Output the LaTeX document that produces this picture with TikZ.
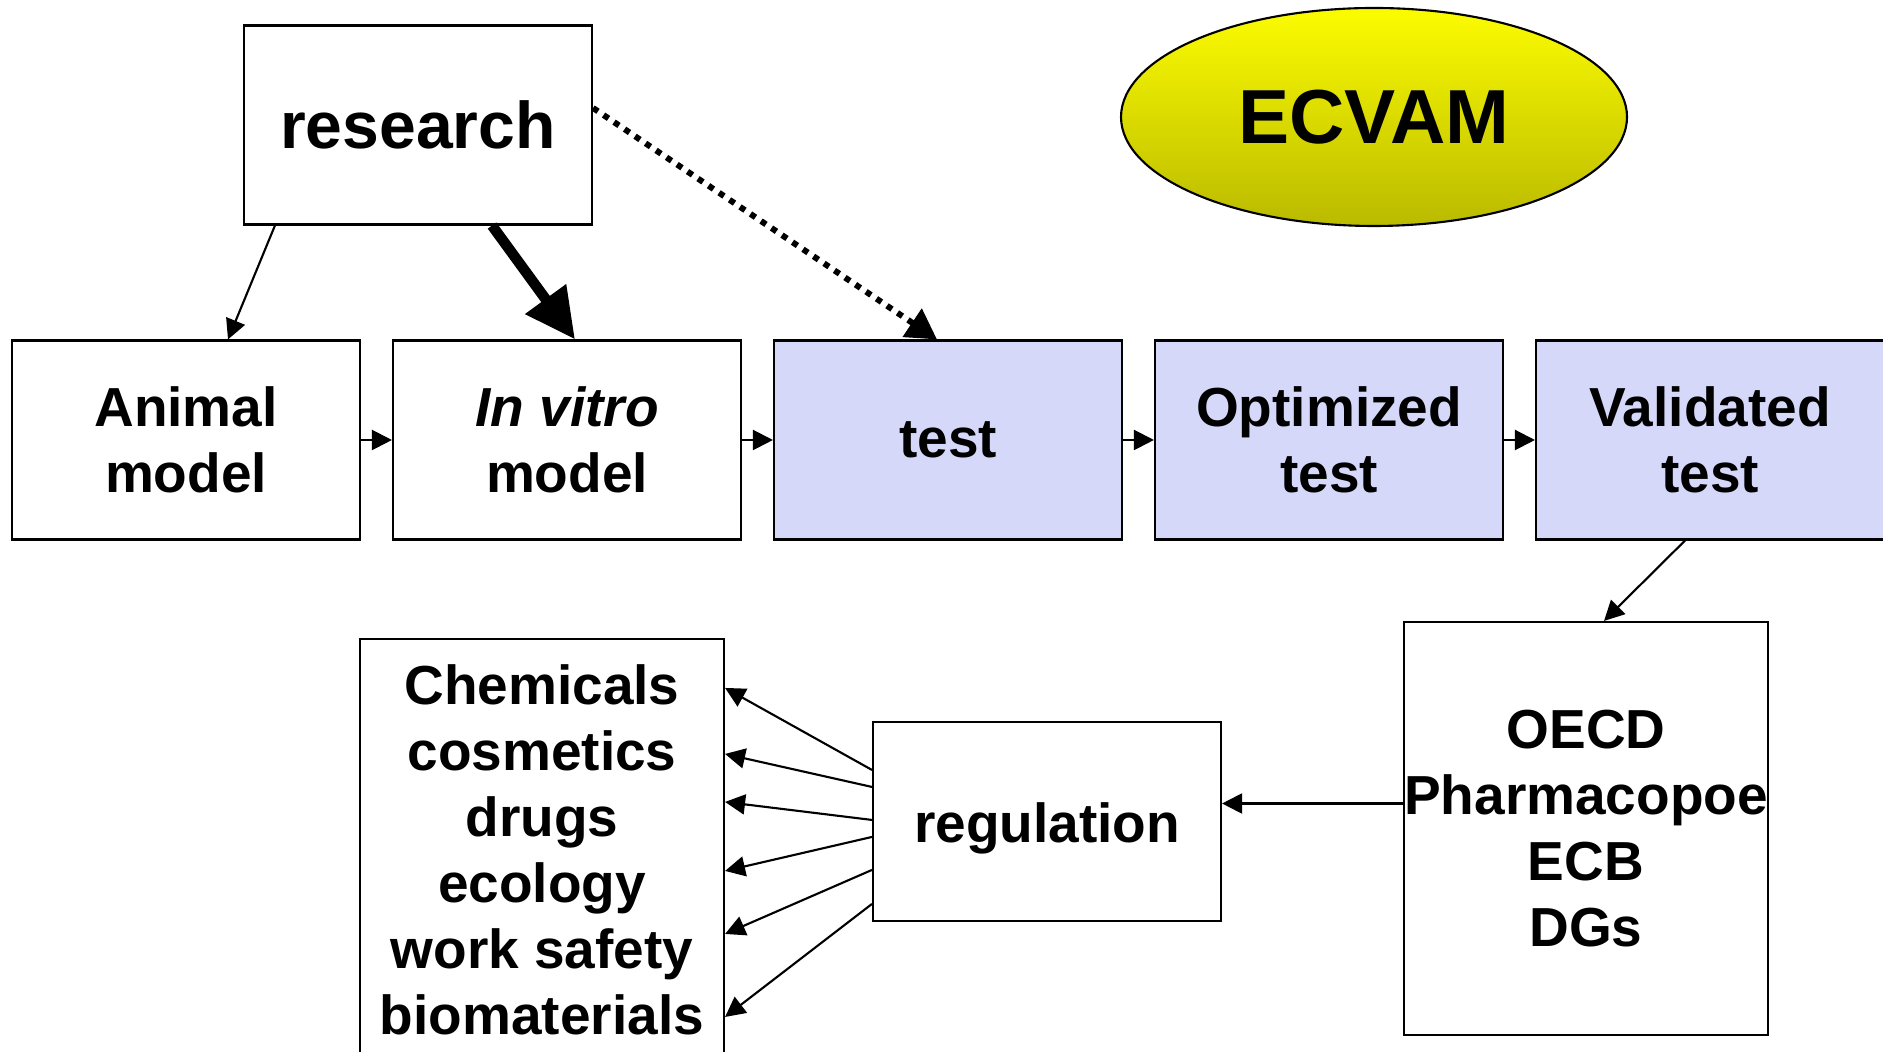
\documentclass[tikz,border=0pt]{standalone}
\usepackage{fontspec}
\setmainfont{Liberation Sans}
\usepackage{xcolor}
\usepackage{tikz}
\usetikzlibrary{arrows.meta}
\usetikzlibrary{shapes.geometric}
\usetikzlibrary{calc}
\definecolor{testblue}{RGB}{214,216,250}
\definecolor{ecvamtop}{RGB}{252,252,0}
\definecolor{ecvambot}{RGB}{186,186,0}

\begin{document}
\begin{tikzpicture}
\tikzset{>={Triangle[width=2mm,length=2mm]}}
\tikzstyle{box} =[draw, line width=0.6pt, minimum width=3.48cm, minimum height=1.99cm, inner sep=0pt, align=center, font=\fontsize{15.65}{18.8}\selectfont\bfseries]
\tikzstyle{testbox} =[box, fill=testblue]
\tikzstyle{link} =[->, line width=0.6pt]

\useasboundingbox (0,0) rectangle (18.83,-10.52);

\node[box, font=\fontsize{18.8}{22}\selectfont\bfseries](res) at (4.18,-1.25){research};
\node[ellipse, draw, line width=0.6pt, top color=ecvamtop, bottom color=ecvambot, minimum width=5.06cm, minimum height=2.18cm, font=\fontsize{21.8}{26}\selectfont\bfseries](ecvam) at (13.74,-1.17){ECVAM};

\node[box](anim) at (1.86,-4.40){Animal\\model};
\node[box](vitro) at (5.67,-4.40){\textit{In vitro}\\model};
\node[testbox](tst) at (9.48,-4.40){test};
\node[testbox](opt) at (13.29,-4.40){Optimized\\test};
\node[testbox](val) at (17.10,-4.40){Validated\\test};

\node[box, minimum width=3.64cm, minimum height=4.22cm](use) at (5.42,-8.50){Chemicals\\cosmetics\\drugs\\ecology\\work safety\\biomaterials};
\node[box, text height=0.54cm, text depth=0.12cm](reg) at (10.47,-8.215){regulation};
\node[box, minimum width=3.64cm, minimum height=4.13cm](org) at (15.86,-8.285){OECD\\Pharmacopoe\\ECB\\DGs};

\draw[link] ($(res.south west)+(0.32,0)$) -- ($(anim.north)+(0.42,0)$);
\draw[->, line width=3pt, >={Triangle[width=4.8mm,length=5mm]}] ($(res.south)+(0.74,0)$) -- ($(vitro.north)+(0.08,0)$);
\draw[->, line width=1.7pt, dash pattern=on 1.7pt off 1.9pt, >={Triangle[width=3.3mm,length=3mm]}] ($(res.east)+(0,0.17)$) -- ($(tst.north)+(-0.11,0)$);

\draw[link] (anim) -- (vitro);
\draw[link] (vitro) -- (tst);
\draw[link] (tst) -- (opt);
\draw[link] (opt) -- (val);

\draw[link] ($(val.south)+(-0.25,0)$) -- ($(org.north)+(0.18,0)$);
\coordinate (o1) at ($(org.west)+(0,0.25)$);
\draw[link] (o1) -- (o1 -| reg.east);

\draw[link] ($(reg.north west)+(0,-0.49)$) -- ($(use.north east)+(0,-0.50)$);
\draw[link] ($(reg.north west)+(0,-0.66)$) -- ($(use.north east)+(0,-1.16)$);
\draw[link] ($(reg.north west)+(0,-0.99)$) -- ($(use.north east)+(0,-1.64)$);
\draw[link] ($(reg.north west)+(0,-1.16)$) -- ($(use.north east)+(0,-2.33)$);
\draw[link] ($(reg.north west)+(0,-1.49)$) -- ($(use.north east)+(0,-2.96)$);
\draw[link] ($(reg.north west)+(0,-1.83)$) -- ($(use.north east)+(0,-3.79)$);
\end{tikzpicture}
\end{document}
